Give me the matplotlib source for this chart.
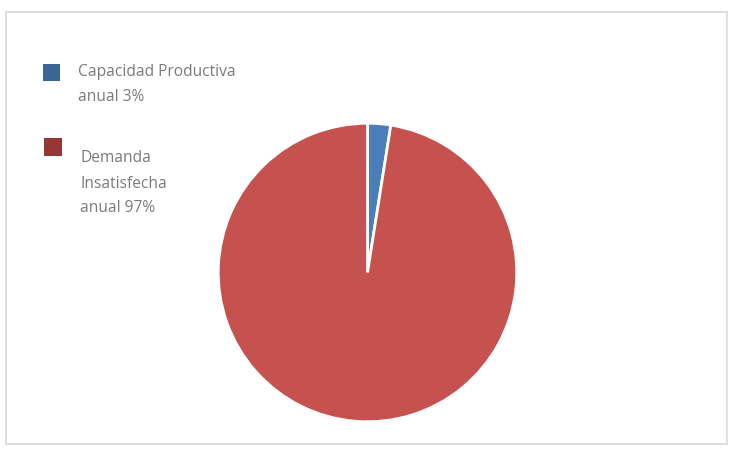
import matplotlib
matplotlib.use("Agg")
import matplotlib.pyplot as plt
from matplotlib.patches import Rectangle

labels = ["Capacidad Productiva anual 3%", "Demanda Insatisfecha anual 97%"]
values = [2.5, 97.5]
pie_colors = ["#4A7EBB", "#C5524F"]
legend_colors = ["#3A6595", "#953735"]

W, H = 736, 466
fig = plt.figure(figsize=(W / 100, H / 100), dpi=100)
fig.patch.set_facecolor("white")

def fx(x):
    return x / W

def fy(y):
    return 1 - y / H

# outer border
fig.add_artist(Rectangle((fx(6), fy(444)), fx(721), (444 - 12) / H,
                         transform=fig.transFigure, fill=False, edgecolor="#D9D9D9", lw=1.2))

ax = fig.add_axes([fx(217.5), fy(422.5), fx(300), 300 / H])
ax.pie(values, colors=pie_colors, startangle=90, counterclock=False,
       wedgeprops=dict(edgecolor="white", linewidth=2.0))
ax.set_xlim(-1.005, 1.005)
ax.set_ylim(-1.005, 1.005)
ax.set_aspect("equal")
ax.axis("off")

# legend
font = dict(family="Open Sans", fontsize=11.2, color="#7A7A7A")
fig.add_artist(Rectangle((fx(43), fy(81)), 17 / W, 17 / H, transform=fig.transFigure,
                         facecolor=legend_colors[0], edgecolor="none"))
fig.add_artist(Rectangle((fx(44), fy(156)), 18 / W, 18 / H, transform=fig.transFigure,
                         facecolor=legend_colors[1], edgecolor="none"))
fig.text(fx(78), fy(72), "Capacidad Productiva", va="center", ha="left", **font)
fig.text(fx(78), fy(97), "anual 3%", va="center", ha="left", **font)
fig.text(fx(80), fy(158), "Demanda", va="center", ha="left", **font)
fig.text(fx(80), fy(184), "Insatisfecha", va="center", ha="left", **font)
fig.text(fx(80), fy(208), "anual 97%", va="center", ha="left", **font)

fig.savefig("out.png", dpi=100)
